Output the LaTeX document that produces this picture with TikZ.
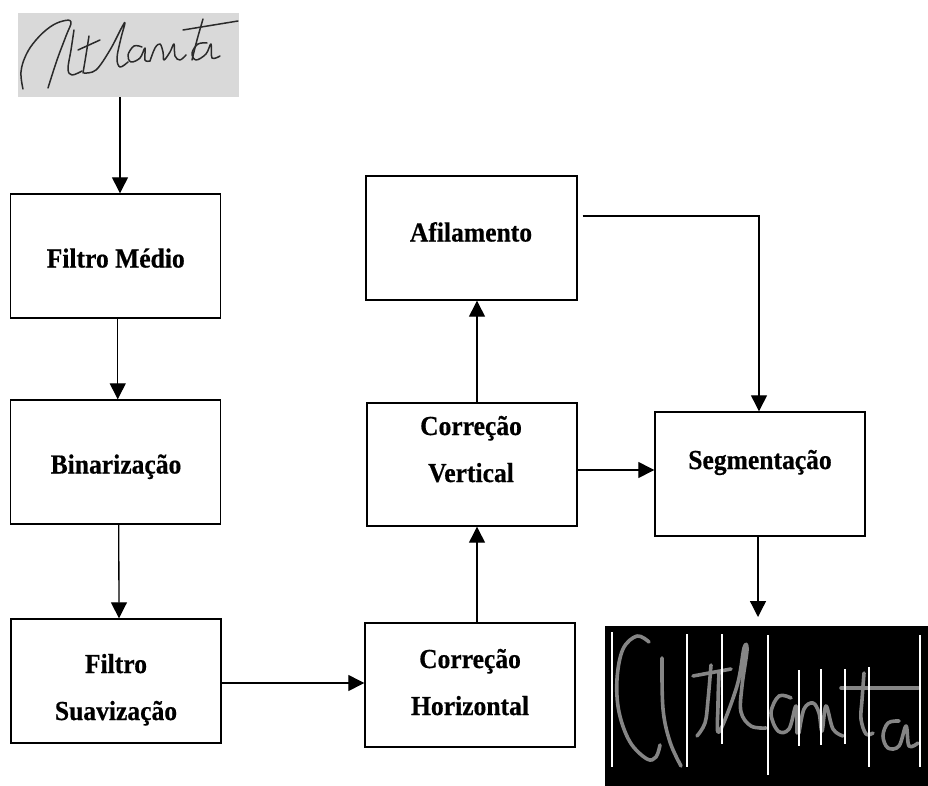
\documentclass[tikz,border=0pt]{standalone}
\usepackage{fontspec}
\setmainfont{Liberation Serif}[FakeStretch=0.93, BoldFeatures={FakeBold=0.5}]
\usetikzlibrary{arrows.meta}
\definecolor{paper}{HTML}{D9D9D9}
\definecolor{ink}{HTML}{2A2A2A}
\definecolor{chalk}{HTML}{858585}
\begin{document}
\begin{tikzpicture}[x=1pt,y=-1pt,
  box/.style={draw, line width=1.4pt, rectangle, inner sep=0pt,
              minimum width=210pt, minimum height=124pt},
  lbl/.style={font=\bfseries\fontsize{27.5}{33}\selectfont, anchor=base, inner sep=0pt},
  arr/.style={line width=1.3pt, -{Triangle[length=16pt,width=16pt]}},
  pen/.style={draw=ink, line width=1.5pt, line cap=round, line join=round},
  chalkpen/.style={draw=chalk, line width=3.6pt, line cap=round, line join=round},
  cut/.style={draw=white, line width=2.2pt}]
\useasboundingbox (0,0) rectangle (928,786);

% scanned word at the top
\node[fill=paper, inner sep=0pt, minimum width=221pt, minimum height=84pt] (img1) at (128.5,55) {};
\draw[pen] plot[smooth, tension=0.65] coordinates {(23,89) (21,72) (26,55) (36,40) (50,27) (63,21) (71,22) (66,36) (57,60) (48,88)};
\draw[pen] plot[smooth, tension=0.6] coordinates {(74,30) (71,50) (68,69) (72,75) (82,71)};
\draw[pen] plot[smooth, tension=0.6] coordinates {(89,36) (86,55) (83,73)};
\draw[pen] (78,50) -- (100,40);
\draw[pen] plot[smooth, tension=0.6] coordinates {(84,73) (96,70) (110,50) (122,27) (125,23) (121,38) (117,58) (120,67) (128,62)};
\draw[pen] plot[smooth, tension=0.6] coordinates {(142,47) (134,46) (128,55) (131,62) (140,58) (145,48) (145,60) (150,61)};
\draw[pen] plot[smooth, tension=0.6] coordinates {(150,61) (155,48) (160,44) (163,52) (164,60) (170,52) (174,44) (175,56) (180,60) (186,55)};
\draw[pen] plot[smooth, tension=0.6] coordinates {(203,19) (197,40) (192,60)};
\draw[pen] (183,30) -- (238,21);
\draw[pen] plot[smooth, tension=0.6] coordinates {(207,43) (198,44) (192,53) (196,60) (206,54) (211,44) (212,58) (220,56)};

% segmented word at the bottom
\node[fill=black, inner sep=0pt, minimum width=323pt, minimum height=160pt] (img2) at (766.5,706) {};
\draw[chalkpen] plot[smooth, tension=0.6] coordinates {(649,642) (637,636) (623,649) (617,679) (619,712) (630,742) (647,759) (656,757) (660,745)};
\draw[chalkpen] plot[smooth, tension=0.6] coordinates {(662,658) (663,709) (670,742) (681,766)};
\draw[chalkpen] (693,676) -- (731,669);
\draw[chalkpen] plot[smooth, tension=0.6] coordinates {(711,665) (708,700) (705,723) (697,736)};
\draw[chalkpen] plot[smooth, tension=0.6] coordinates {(719,673) (718,705) (719,732) (737,686) (744,648) (747,650) (742,686) (741,712) (751,726) (766,728)};
\draw[chalkpen] plot[smooth, tension=0.6] coordinates {(791,698) (779,696) (771,713) (778,731) (789,729) (796,706) (797,733)};
\draw[chalkpen] plot[smooth, tension=0.6] coordinates {(799,733) (804,709) (813,703) (819,713) (822,731) (826,706) (833,729) (843,736)};
\draw[chalkpen] plot[smooth, tension=0.6] coordinates {(864,673) (862,700) (861,719) (866,734) (873,733)};
\draw[chalkpen] (841,688) -- (918,688);
\draw[chalkpen] plot[smooth, tension=0.6] coordinates {(899,721) (888,723) (883,736) (888,748) (899,746) (906,726) (909,746) (918,743)};
\draw[cut] (612,632) -- (612,767);
\draw[cut] (687,634) -- (687,767);
\draw[cut] (722,634) -- (722,744);
\draw[cut] (768,635) -- (768,775);
\draw[cut] (799,670) -- (799,746);
\draw[cut] (821,669) -- (821,745);
\draw[cut] (845,669) -- (845,744);
\draw[cut] (869,667) -- (869,767);
\draw[cut] (920,635) -- (920,767);

% processing stages
\node[box] (fm)  at (115.75,256) {};
\node[box] (bin) at (115.75,462) {};
\node[box] (fs)  at (116,681) {};
\node[box] (ch)  at (470,685) {};
\node[box, minimum height=123pt] (cv) at (472,464.5) {};
\node[box, minimum width=211pt] (af) at (471.5,238) {};
\node[box] (seg) at (760,474) {};

\node[lbl] (fmT)  at (115.75,267.5) {Filtro Médio};
\node[lbl] (binT) at (116,473.5) {Binarização};
\node[lbl] (fsT1) at (116,673) {Filtro};
\node[lbl] (fsT2) at (116,720) {Suavização};
\node[lbl] (chT1) at (470,668) {Correção};
\node[lbl] (chT2) at (470,715) {Horizontal};
\node[lbl] (cvT1) at (471,435) {Correção};
\node[lbl] (cvT2) at (471,482) {Vertical};
\node[lbl] (afT)  at (471,241.5) {Afilamento};
\node[lbl] (segT) at (760,469) {Segmentação};

% flow
\coordinate (segout) at (758,617);
\draw[arr] ([xshift=4.25pt]fm.north |- img1.south) -- ([xshift=4.25pt]fm.north);
\draw[arr] ([xshift=2pt]fm.south) -- ([xshift=2pt]bin.north);
\draw[arr] ([xshift=3pt]bin.south) -- ([xshift=3pt]fs.north);
\draw[arr] ([yshift=-2pt]fs.east) -- ([yshift=-2pt]fs.east -| ch.west);
\draw[arr] ([xshift=7pt]ch.north) -- ([xshift=7pt]ch.north |- cv.south);
\draw[arr] ([xshift=5pt]cv.north) -- ([xshift=5pt]cv.north |- af.south);
\draw[arr] ([yshift=-5.5pt]cv.east) -- ([yshift=-5.5pt]cv.east -| seg.west);
\draw[arr] ([xshift=5pt,yshift=22pt]af.east) -| ([xshift=-1pt]seg.north);
\draw[arr] ([xshift=-2pt]seg.south) -- (segout);
\end{tikzpicture}
\end{document}
